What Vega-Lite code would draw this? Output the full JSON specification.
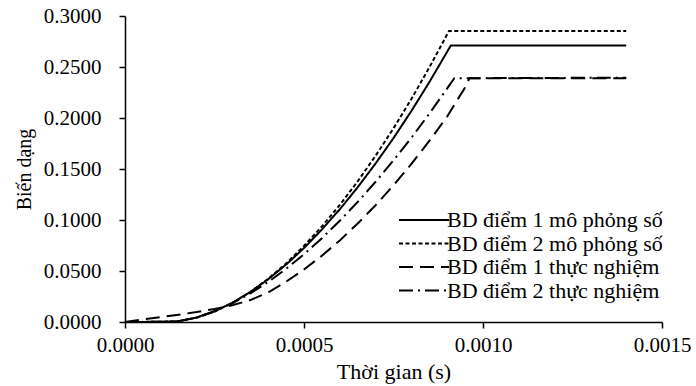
{
  "$schema": "https://vega.github.io/schema/vega-lite/v6.json",
  "autosize": {"type": "none"},
  "padding": {"left": 125, "top": 16, "right": 34, "bottom": 64},
  "width": 537,
  "height": 306,
  "background": "white",
  "config": {
    "view": {"stroke": null},
    "font": "Liberation Serif"
  },
  "data": {
    "values": [
      {"t": 0, "v": 0, "s": "BD điểm 1 mô phỏng số"},
      {"t": 0.0001, "v": 0.0002, "s": "BD điểm 1 mô phỏng số"},
      {"t": 0.00015, "v": 0.0008, "s": "BD điểm 1 mô phỏng số"},
      {"t": 0.0002, "v": 0.0044, "s": "BD điểm 1 mô phỏng số"},
      {"t": 0.00025, "v": 0.0105, "s": "BD điểm 1 mô phỏng số"},
      {"t": 0.0003, "v": 0.0189, "s": "BD điểm 1 mô phỏng số"},
      {"t": 0.00035, "v": 0.0294, "s": "BD điểm 1 mô phỏng số"},
      {"t": 0.0004, "v": 0.0419, "s": "BD điểm 1 mô phỏng số"},
      {"t": 0.00045, "v": 0.0563, "s": "BD điểm 1 mô phỏng số"},
      {"t": 0.0005, "v": 0.0725, "s": "BD điểm 1 mô phỏng số"},
      {"t": 0.00055, "v": 0.0907, "s": "BD điểm 1 mô phỏng số"},
      {"t": 0.0006, "v": 0.1105, "s": "BD điểm 1 mô phỏng số"},
      {"t": 0.00065, "v": 0.1321, "s": "BD điểm 1 mô phỏng số"},
      {"t": 0.0007, "v": 0.1554, "s": "BD điểm 1 mô phỏng số"},
      {"t": 0.00075, "v": 0.1803, "s": "BD điểm 1 mô phỏng số"},
      {"t": 0.0008, "v": 0.2069, "s": "BD điểm 1 mô phỏng số"},
      {"t": 0.00085, "v": 0.2351, "s": "BD điểm 1 mô phỏng số"},
      {"t": 0.00091, "v": 0.2710, "s": "BD điểm 1 mô phỏng số"},
      {"t": 0.0014, "v": 0.2710, "s": "BD điểm 1 mô phỏng số"},

      {"t": 0, "v": 0, "s": "BD điểm 2 mô phỏng số"},
      {"t": 0.0001, "v": 0.0002, "s": "BD điểm 2 mô phỏng số"},
      {"t": 0.00015, "v": 0.0007, "s": "BD điểm 2 mô phỏng số"},
      {"t": 0.0002, "v": 0.0042, "s": "BD điểm 2 mô phỏng số"},
      {"t": 0.00025, "v": 0.0102, "s": "BD điểm 2 mô phỏng số"},
      {"t": 0.0003, "v": 0.0187, "s": "BD điểm 2 mô phỏng số"},
      {"t": 0.00035, "v": 0.0294, "s": "BD điểm 2 mô phỏng số"},
      {"t": 0.0004, "v": 0.0424, "s": "BD điểm 2 mô phỏng số"},
      {"t": 0.00045, "v": 0.0574, "s": "BD điểm 2 mô phỏng số"},
      {"t": 0.0005, "v": 0.0746, "s": "BD điểm 2 mô phỏng số"},
      {"t": 0.00055, "v": 0.0937, "s": "BD điểm 2 mô phỏng số"},
      {"t": 0.0006, "v": 0.1148, "s": "BD điểm 2 mô phỏng số"},
      {"t": 0.00065, "v": 0.1379, "s": "BD điểm 2 mô phỏng số"},
      {"t": 0.0007, "v": 0.1630, "s": "BD điểm 2 mô phỏng số"},
      {"t": 0.00075, "v": 0.1899, "s": "BD điểm 2 mô phỏng số"},
      {"t": 0.0008, "v": 0.2187, "s": "BD điểm 2 mô phỏng số"},
      {"t": 0.00085, "v": 0.2495, "s": "BD điểm 2 mô phỏng số"},
      {"t": 0.000905, "v": 0.2853, "s": "BD điểm 2 mô phỏng số"},
      {"t": 0.0014, "v": 0.2853, "s": "BD điểm 2 mô phỏng số"},

      {"t": 0, "v": 0, "s": "BD điểm 1 thực nghiệm"},
      {"t": 0.00005, "v": 0.0025, "s": "BD điểm 1 thực nghiệm"},
      {"t": 0.0001, "v": 0.0048, "s": "BD điểm 1 thực nghiệm"},
      {"t": 0.00015, "v": 0.0072, "s": "BD điểm 1 thực nghiệm"},
      {"t": 0.0002, "v": 0.0098, "s": "BD điểm 1 thực nghiệm"},
      {"t": 0.00025, "v": 0.0128, "s": "BD điểm 1 thực nghiệm"},
      {"t": 0.0003, "v": 0.0165, "s": "BD điểm 1 thực nghiệm"},
      {"t": 0.00035, "v": 0.0215, "s": "BD điểm 1 thực nghiệm"},
      {"t": 0.0004, "v": 0.0290, "s": "BD điểm 1 thực nghiệm"},
      {"t": 0.00045, "v": 0.0395, "s": "BD điểm 1 thực nghiệm"},
      {"t": 0.0005, "v": 0.0515, "s": "BD điểm 1 thực nghiệm"},
      {"t": 0.00055, "v": 0.0650, "s": "BD điểm 1 thực nghiệm"},
      {"t": 0.0006, "v": 0.0800, "s": "BD điểm 1 thực nghiệm"},
      {"t": 0.00065, "v": 0.0965, "s": "BD điểm 1 thực nghiệm"},
      {"t": 0.0007, "v": 0.1145, "s": "BD điểm 1 thực nghiệm"},
      {"t": 0.00075, "v": 0.1340, "s": "BD điểm 1 thực nghiệm"},
      {"t": 0.0008, "v": 0.1550, "s": "BD điểm 1 thực nghiệm"},
      {"t": 0.00085, "v": 0.1775, "s": "BD điểm 1 thực nghiệm"},
      {"t": 0.0009, "v": 0.2015, "s": "BD điểm 1 thực nghiệm"},
      {"t": 0.00095, "v": 0.2300, "s": "BD điểm 1 thực nghiệm"},
      {"t": 0.000962, "v": 0.2390, "s": "BD điểm 1 thực nghiệm"},
      {"t": 0.0014, "v": 0.2390, "s": "BD điểm 1 thực nghiệm"},

      {"t": 0, "v": 0, "s": "BD điểm 2 thực nghiệm"},
      {"t": 0.0001, "v": 0.0002, "s": "BD điểm 2 thực nghiệm"},
      {"t": 0.00015, "v": 0.0008, "s": "BD điểm 2 thực nghiệm"},
      {"t": 0.0002, "v": 0.0045, "s": "BD điểm 2 thực nghiệm"},
      {"t": 0.00025, "v": 0.0105, "s": "BD điểm 2 thực nghiệm"},
      {"t": 0.0003, "v": 0.0184, "s": "BD điểm 2 thực nghiệm"},
      {"t": 0.00035, "v": 0.0280, "s": "BD điểm 2 thực nghiệm"},
      {"t": 0.0004, "v": 0.0393, "s": "BD điểm 2 thực nghiệm"},
      {"t": 0.00045, "v": 0.0521, "s": "BD điểm 2 thực nghiệm"},
      {"t": 0.0005, "v": 0.0664, "s": "BD điểm 2 thực nghiệm"},
      {"t": 0.00055, "v": 0.0822, "s": "BD điểm 2 thực nghiệm"},
      {"t": 0.0006, "v": 0.0993, "s": "BD điểm 2 thực nghiệm"},
      {"t": 0.00065, "v": 0.1177, "s": "BD điểm 2 thực nghiệm"},
      {"t": 0.0007, "v": 0.1375, "s": "BD điểm 2 thực nghiệm"},
      {"t": 0.00075, "v": 0.1585, "s": "BD điểm 2 thực nghiệm"},
      {"t": 0.0008, "v": 0.1807, "s": "BD điểm 2 thực nghiệm"},
      {"t": 0.00085, "v": 0.2042, "s": "BD điểm 2 thực nghiệm"},
      {"t": 0.00092, "v": 0.2390, "s": "BD điểm 2 thực nghiệm"},
      {"t": 0.0014, "v": 0.2395, "s": "BD điểm 2 thực nghiệm"}
    ]
  },
  "mark": {"type": "line", "strokeWidth": 2, "color": "black"},
  "encoding": {
    "x": {
      "field": "t", "type": "quantitative",
      "scale": {"domain": [0, 0.0015], "nice": false},
      "axis": {
        "title": "Thời gian (s)",
        "values": [0, 0.0005, 0.001, 0.0015],
        "format": ".4f",
        "grid": false,
        "domainColor": "black", "domainWidth": 1.5,
        "tickColor": "black", "tickSize": 6, "tickWidth": 1.5,
        "labelFont": "Liberation Serif", "labelFontSize": 21, "labelColor": "black",
        "labelPadding": 6, "labelFlush": false,
        "titleFont": "Liberation Serif", "titleFontSize": 22, "titleFontWeight": "normal", "titleColor": "black",
        "titlePadding": 6
      }
    },
    "y": {
      "field": "v", "type": "quantitative",
      "scale": {"domain": [0, 0.3], "nice": false},
      "axis": {
        "title": "Biến dạng",
        "values": [0, 0.05, 0.1, 0.15, 0.2, 0.25, 0.3],
        "format": ".4f",
        "grid": false,
        "domainColor": "black", "domainWidth": 1.5,
        "tickColor": "black", "tickSize": 6, "tickWidth": 1.5,
        "labelFont": "Liberation Serif", "labelFontSize": 21, "labelColor": "black",
        "labelPadding": 18, "labelFlush": false,
        "titleFont": "Liberation Serif", "titleFontSize": 20, "titleFontWeight": "normal", "titleColor": "black",
        "titlePadding": 9
      }
    },
    "strokeDash": {
      "field": "s", "type": "nominal",
      "scale": {
        "domain": ["BD điểm 1 mô phỏng số", "BD điểm 2 mô phỏng số", "BD điểm 1 thực nghiệm", "BD điểm 2 thực nghiệm"],
        "range": [[1, 0], [4, 2.5], [14, 7], [14, 5, 2, 5]]
      },
      "legend": {
        "title": null,
        "orient": "none",
        "legendX": 288,
        "legendY": 193,
        "symbolType": "M-5,0H5",
        "symbolSize": 100,
        "symbolStrokeWidth": 2,
        "symbolStrokeColor": "black",
        "labelFont": "Liberation Serif",
        "labelFontSize": 22,
        "labelColor": "black",
        "labelOffset": 12,
        "labelLimit": 400,
        "rowPadding": 1.5
      }
    }
  }
}
